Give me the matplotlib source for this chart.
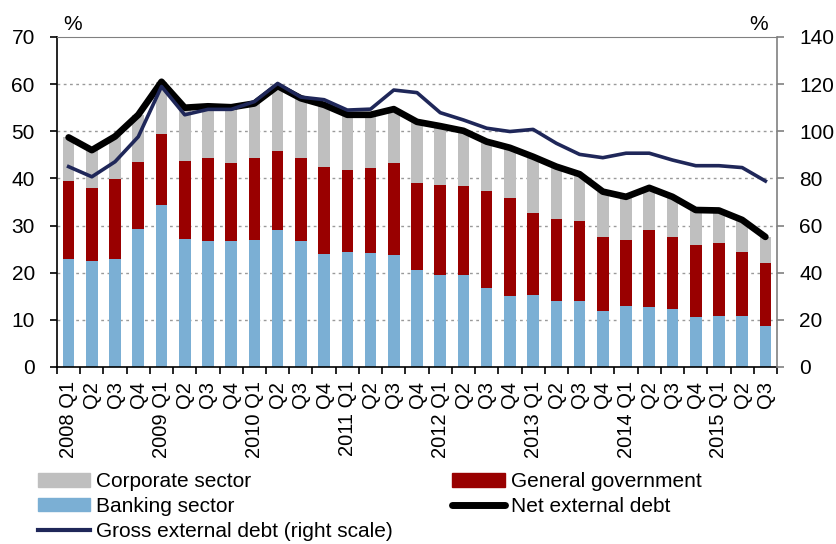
import numpy as np
import matplotlib
matplotlib.use("Agg")
import matplotlib.pyplot as plt
from matplotlib.patches import Patch
from matplotlib.lines import Line2D

plt.rcParams['font.family'] = ['Liberation Sans', 'DejaVu Sans']

# quarters 2008 Q1 .. 2015 Q3
quarters = ['2008 Q1', 'Q2', 'Q3', 'Q4', '2009 Q1', 'Q2', 'Q3', 'Q4',
            '2010 Q1', 'Q2', 'Q3', 'Q4', '2011 Q1', 'Q2', 'Q3', 'Q4',
            '2012 Q1', 'Q2', 'Q3', 'Q4', '2013 Q1', 'Q2', 'Q3', 'Q4',
            '2014 Q1', 'Q2', 'Q3', 'Q4', '2015 Q1', 'Q2', 'Q3']

banking = [23.0, 22.4, 22.9, 29.3, 34.3, 27.2, 26.7, 26.7, 27.0, 29.0, 26.7,
           24.0, 24.5, 24.2, 23.8, 20.6, 19.5, 19.5, 16.7, 15.1, 15.3, 13.9,
           14.1, 11.9, 12.9, 12.7, 12.4, 10.7, 10.9, 10.9, 8.8]
government = [16.5, 15.6, 16.9, 14.2, 15.1, 16.6, 17.7, 16.6, 17.4, 16.8, 17.7,
              18.4, 17.3, 18.1, 19.5, 18.4, 19.1, 18.8, 20.7, 20.7, 17.3, 17.4,
              16.9, 15.7, 14.0, 16.3, 15.1, 15.2, 15.3, 13.5, 13.3]
corporate = [9.2, 8.0, 9.1, 10.0, 11.1, 11.2, 10.9, 11.8, 11.5, 13.8, 12.6,
             13.2, 11.7, 11.2, 11.4, 13.0, 12.5, 11.8, 10.4, 10.7, 12.0, 11.2,
             9.9, 9.6, 9.2, 9.0, 8.6, 7.4, 7.0, 6.8, 5.5]
net_debt = [48.7, 46.0, 48.9, 53.5, 60.5, 55.0, 55.3, 55.1, 55.9, 59.6, 57.0,
            55.6, 53.5, 53.5, 54.7, 52.0, 51.1, 50.1, 47.8, 46.5, 44.6, 42.5,
            40.9, 37.2, 36.1, 38.0, 36.1, 33.3, 33.2, 31.2, 27.6]
gross_debt = [85.0, 80.7, 87.1, 97.7, 119.0, 107.0, 109.3, 109.3, 112.6, 120.3,
              114.5, 113.4, 109.0, 109.4, 117.5, 116.4, 107.9, 104.8, 101.3,
              99.9, 100.8, 94.9, 90.2, 88.8, 90.7, 90.7, 87.8, 85.4, 85.4, 84.6,
              78.9]

c_corp = '#BFBFBF'
c_gov = '#990000'
c_bank = '#7BAFD4'
c_gross = '#1F2759'

fig = plt.figure(figsize=(8.36, 5.44), dpi=100)
ax = fig.add_axes([57/836, 1-367/544, 720/836, 330/544])
x = np.arange(len(quarters))
w = 0.5
b = np.array(banking)
g = np.array(government)
ax.bar(x, banking, w, color=c_bank, zorder=2)
ax.bar(x, government, w, bottom=b, color=c_gov, zorder=2)
ax.bar(x, corporate, w, bottom=b+g, color=c_corp, zorder=2)
ax.plot(x, net_debt, color='black', lw=4.8, solid_capstyle='round', zorder=3)

ax.set_xlim(-0.5, len(quarters)-0.5)
ax.set_ylim(0, 70)
ax.set_yticks(range(0, 71, 10))
ax.tick_params(axis='y', labelsize=15, length=5, width=1.2, pad=11)
ax.set_xticks(np.arange(-0.5, len(quarters), 1))
ax.set_xticklabels([])
ax.set_xticks(x, minor=True)
ax.set_xticklabels(quarters, minor=True, rotation=90, fontsize=14.5)
ax.tick_params(axis='x', which='major', length=5, width=1.2)
ax.tick_params(axis='x', which='minor', length=0, pad=10)
for yv in range(10, 70, 10):
    ax.axhline(yv, color='#9A9A9A', lw=1, ls=(0, (2, 2.5)), zorder=1)
ax.spines['top'].set_color('#808080')
ax.spines['right'].set_visible(False)
ax.spines['left'].set_linewidth(1.2)
ax.spines['bottom'].set_linewidth(1.2)

ax2 = ax.twinx()
ax2.plot(x, gross_debt, color=c_gross, lw=2.6, zorder=4)
ax2.set_ylim(0, 140)
ax2.set_yticks(range(0, 141, 20))
ax2.tick_params(axis='y', labelsize=15, length=5, width=1.2, color='#808080', pad=11)
ax2.spines['right'].set_color('#808080')
ax2.spines['right'].set_linewidth(1.2)
for s in ['top', 'left', 'bottom']:
    ax2.spines[s].set_visible(False)

fig.text(73/836, 1-25/544, '%', ha='center', va='center', fontsize=15)
fig.text(759/836, 1-25/544, '%', ha='center', va='center', fontsize=15)

handles = [Patch(color=c_corp), Patch(color=c_bank),
           Line2D([], [], color=c_gross, lw=3),
           Patch(color=c_gov), Line2D([], [], color='black', lw=5, solid_capstyle='round')]
labels = ['Corporate sector', 'Banking sector', 'Gross external debt (right scale)',
          'General government', 'Net external debt']
fig.legend(handles, labels, ncol=2, loc='upper left',
           bbox_to_anchor=(38/836, 1-472/544), frameon=False, fontsize=15,
           handlelength=2.5, handleheight=0.65, handletextpad=0.3,
           labelspacing=0.28, columnspacing=2.85, borderpad=0, borderaxespad=0)

fig.savefig('out.png', dpi=100)
